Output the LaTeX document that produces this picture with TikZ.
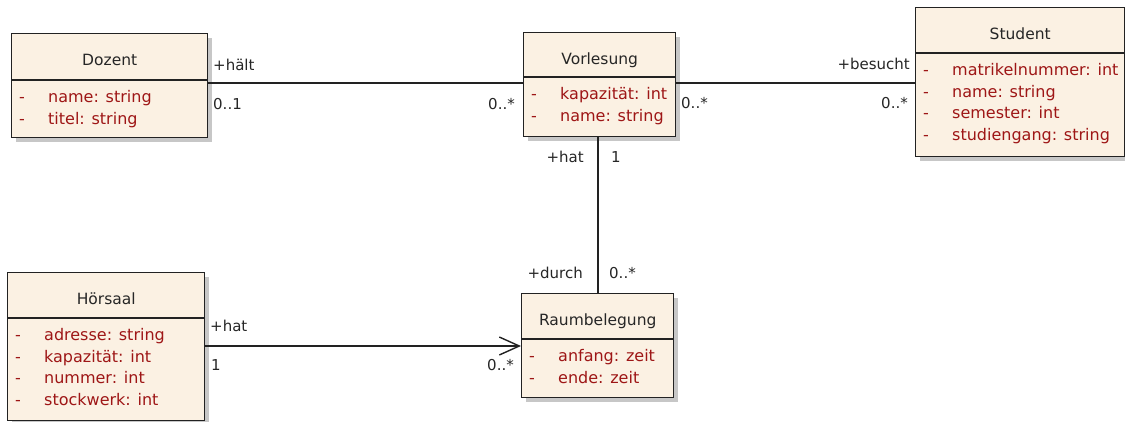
\documentclass[tikz,border=0pt]{standalone}
\usepackage{fontspec}
\setmainfont{DejaVu Sans}
\usetikzlibrary{arrows.meta,shadows}

\definecolor{classfill}{RGB}{251,241,227}
\definecolor{attrred}{RGB}{158,22,22}
\definecolor{edgegray}{RGB}{34,34,34}

\tikzset{
  classbox/.style={draw=edgegray, line width=1.4pt, fill=classfill, inner sep=0pt,
    drop shadow={shadow xshift=4pt, shadow yshift=-4pt, fill=black!22, opacity=1}},
  classline/.style={draw=edgegray, line width=1.4pt},
  classtitle/.style={font=\fontsize{15.5}{18}\selectfont, anchor=base, inner sep=0pt, text=black!85},
  attr/.style={font=\fontsize{16}{18}\selectfont, text=attrred, anchor=base west, inner sep=0pt},
  rolelabel/.style={font=\fontsize{15}{18}\selectfont, inner sep=0pt, text=black!85},
  assoc/.style={draw=edgegray, line width=1.4pt},
}

% #1 id, #2 left, #3 top, #4 width, #5 height, #6 header height, #7 title, #8 attributes
\newcommand\umlclass[8]{%
  \node[classbox, anchor=north west, minimum width=#4pt, minimum height=#5pt] (#1) at (#2,#3) {};
  \draw[classline] ([yshift=-#6pt]#1.north west) -- ([yshift=-#6pt]#1.north east);
  \node[classtitle] (#1-title) at ([yshift=-32pt]#1.north) {#7};
  \foreach \a [count=\i] in {#8} {
    \node[attr] (#1-vis\i) at ([xshift=8pt, yshift={-(#6+22.5+(\i-1)*21.6)*1pt}]#1.north west) {-};
    \node[attr] (#1-attr\i) at ([xshift=37pt, yshift={-(#6+22.5+(\i-1)*21.6)*1pt}]#1.north west) {\a};
  }%
}

\begin{document}
\begin{tikzpicture}[x=1pt, y=-1pt]
  \useasboundingbox (0,0) rectangle (1125,421);

  \umlclass{dozent}{11}{33}{196}{104}{47}{Dozent}{name: string, titel: string}
  \umlclass{vorlesung}{523}{32}{152}{104}{45}{Vorlesung}{kapazität: int, name: string}
  \umlclass{student}{915}{7}{209}{149}{46}{Student}{matrikelnummer: int, name: string, semester: int, studiengang: string}
  \umlclass{hoersaal}{7}{272}{197}{148}{46}{Hörsaal}{adresse: string, kapazität: int, nummer: int, stockwerk: int}
  \umlclass{raum}{521}{293}{152}{104}{46}{Raumbelegung}{anfang: zeit, ende: zeit}

  % associations
  \draw[assoc] (dozent.east |- 0,83) -- (vorlesung.west |- 0,83);
  \draw[assoc] (vorlesung.east |- 0,83) -- (student.west |- 0,83);
  \draw[assoc] (vorlesung.south -| 598,0) -- (raum.north -| 598,0);
  \draw[assoc, -{Straight Barb[length=20pt, width=18pt]}] (hoersaal.east |- 0,346) -- (raum.west |- 0,346);

  % role names and multiplicities
  \node[rolelabel, anchor=base west] (l-haelt) at (213,70) {+hält};
  \node[rolelabel, anchor=base west] (l-doz-m) at (213,109) {0..1};
  \node[rolelabel, anchor=base east] (l-vorl-m1) at (515,109) {0..*};
  \node[rolelabel, anchor=base west] (l-vorl-m2) at (681,108) {0..*};
  \node[rolelabel, anchor=base east] (l-besucht) at (910,69) {+besucht};
  \node[rolelabel, anchor=base east] (l-stud-m) at (908,108) {0..*};
  \node[rolelabel, anchor=base east] (l-hat1) at (584,162) {+hat};
  \node[rolelabel, anchor=base west] (l-vorl-one) at (611,162) {1};
  \node[rolelabel, anchor=base east] (l-durch) at (583,278) {+durch};
  \node[rolelabel, anchor=base west] (l-raum-m1) at (609,278) {0..*};
  \node[rolelabel, anchor=base west] (l-hat2) at (210,331) {+hat};
  \node[rolelabel, anchor=base west] (l-hoer-one) at (211,370) {1};
  \node[rolelabel, anchor=base east] (l-raum-m2) at (514,370) {0..*};
\end{tikzpicture}
\end{document}
